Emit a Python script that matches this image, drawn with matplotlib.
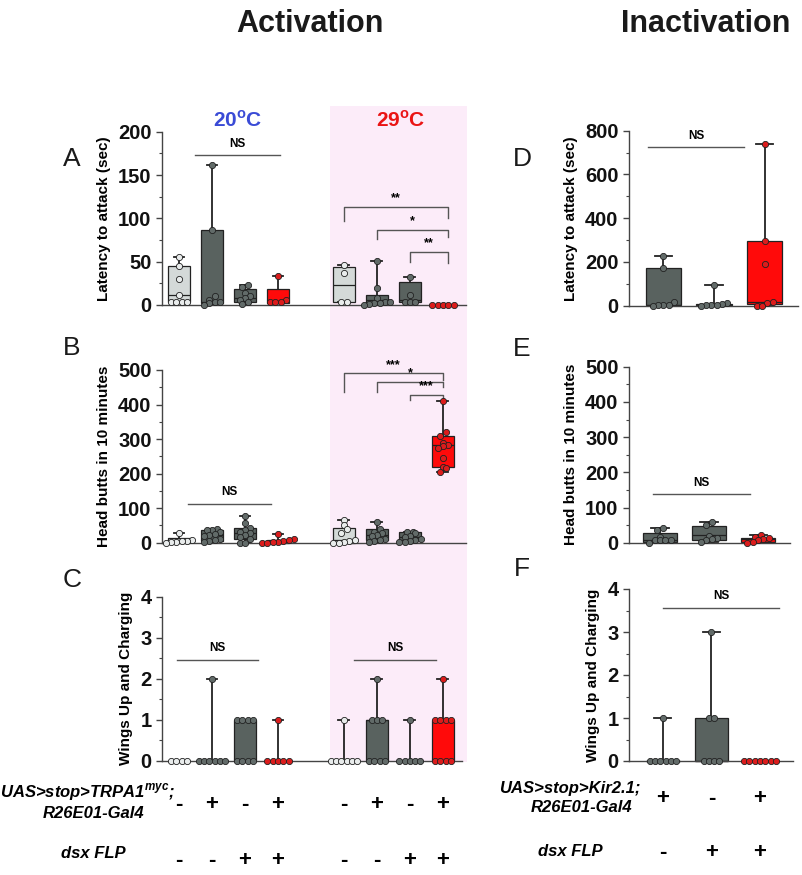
import matplotlib.pyplot as plt
from matplotlib.patches import Rectangle
from matplotlib.ticker import AutoMinorLocator
import matplotlib.transforms as mtransforms

plt.rcParams['font.family'] = ['Liberation Sans', 'DejaVu Sans']
plt.rcParams['mathtext.fontset'] = 'custom'
plt.rcParams['mathtext.rm'] = 'Liberation Sans:italic:bold'
plt.rcParams['mathtext.bf'] = 'Liberation Sans:bold'

# ---- data ----
act_pos = [1, 2, 3, 4, 6, 7, 8, 9]
act_kind = ['light', 'dark', 'dark', 'red', 'light', 'dark', 'dark', 'red']
inact_pos = [1, 2, 3]
inact_kind = ['dark', 'dark', 'red']

# latency to attack, activation (sec)
a_pts = [[55, 45, 30, 12, 3, 3, 3, 3],
         [162, 86, 10, 6, 3, 3, 2, 0],
         [23, 21, 14, 10, 8, 6, 3, 1],
         [33, 6, 3, 3, 3],
         [46, 37, 4, 3],
         [51, 20, 8, 3, 3, 2, 2, 1, 0],
         [32, 11, 3, 3, 3],
         [0, 0, 0, 0, 0]]
# box stats: low, q1, median, q3, high
a_box = [(3, 3, 12, 45, 55), (0, 2, 4, 86, 162), (1, 4, 8, 18, 23), (2, 2, 4, 18, 33),
         (3, 4, 23, 44, 46), (0, 2, 6, 12, 51), (3, 3, 6, 26, 32), (0, 0, 0, 0, 0)]

# head butts, activation
b_pts = [[28, 8, 6, 4, 2, 1, 0],
         [40, 38, 36, 30, 25, 22, 18, 12, 8, 5, 2],
         [77, 56, 42, 36, 30, 28, 22, 17, 10, 0, 0],
         [26, 12, 8, 5, 3, 1, 0, 0],
         [66, 50, 40, 28, 8, 5, 2, 0, 0],
         [61, 40, 32, 28, 22, 18, 12, 8, 4, 2],
         [31, 30, 28, 20, 17, 12, 8, 5, 2, 2],
         [411, 320, 308, 290, 282, 280, 275, 244, 220, 216, 206]]
b_box = [(0, 1, 4, 15, 28), (2, 6, 22, 38, 40), (0, 12, 29, 44, 77), (0, 0, 3, 8, 26),
         (0, 0, 8, 42, 66), (2, 8, 22, 39, 61), (2, 8, 17, 31, 31), (206, 218, 282, 308, 411)]

# wings up and charging, activation
c_pts = [[0, 0, 0, 0],
         [2, 0, 0, 0, 0, 0, 0],
         [1, 1, 1, 1, 0, 0, 0, 0],
         [1, 0, 0, 0, 0, 0],
         [1, 0, 0, 0, 0, 0, 0],
         [2, 1, 1, 1, 0, 0, 0, 0],
         [1, 0, 0, 0, 0, 0],
         [2, 1, 1, 1, 1, 0, 0, 0, 0]]
c_box = [(0, 0, 0, 0, 0), (0, 0, 0, 0, 2), (0, 0, 1, 1, 1), (0, 0, 0, 0, 1),
         (0, 0, 0, 0, 1), (0, 0, 1, 1, 2), (0, 0, 0, 0, 1), (0, 0, 1, 1, 2)]

# inactivation
d_pts = [[229, 172, 15, 5, 3, 2, 0],
         [94, 14, 6, 5, 4, 3, 0],
         [738, 297, 190, 18, 14, 0, 0]]
d_box = [(0, 2, 5, 172, 229), (0, 3, 5, 8, 94), (0, 6, 18, 297, 738)]

e_pts = [[43, 36, 15, 8, 8, 8, 8, 0],
         [59, 50, 20, 12, 10, 8, 3],
         [21, 17, 12, 10, 8, 2, 0]]
e_box = [(0, 3, 8, 28, 43), (3, 8, 22, 47, 59), (0, 2, 10, 14, 21)]

f_pts = [[1, 0, 0, 0, 0, 0, 0],
         [3, 1, 1, 0, 0, 0, 0],
         [0, 0, 0, 0, 0, 0, 0]]
f_box = [(0, 0, 0, 0, 1), (0, 0, 0, 1, 3), (0, 0, 0, 0, 0)]

# genotype rows
act_uas = ['-', '+', '-', '+', '-', '+', '-', '+']
act_dsx = ['-', '-', '+', '+', '-', '-', '+', '+']
inact_uas = ['+', '-', '+']
inact_dsx = ['-', '+', '+']

# significance: x1, x2, y, left leg end, right leg end, label
a_sig = [(6, 9.15, 113, 97, 100, '**'), (7, 9.15, 87, 76, 78, '*'), (8, 9.15, 61, 50, 48, '**')]
b_sig = [(6, 9, 490, 437, 471, '***'), (7, 9, 466, 437, 450, '*'), (8, 9, 428, 413, 413, '***')]
# NS lines: x1, x2, y
a_ns = [(1.5, 4.06, 173)]
b_ns = [(1.27, 3.8, 112)]
c_ns = [(0.94, 3.4, 2.46), (6.3, 8.8, 2.46)]
d_ns = [(0.7, 2.59, 724)]
e_ns = [(0.86, 2.84, 137)]
f_ns = [(1.0, 3.4, 3.56)]

BOX = {'light': '#d4d9d8', 'dark': '#59625f', 'red': '#ff0a0a'}
DOT = {'light': '#e9ecec', 'dark': '#626b69', 'red': '#dc1c1c'}
EDGE = '#222222'
GRAY = '#555555'

W, H = 802, 875
fig = plt.figure(figsize=(W / 100, H / 100), dpi=100)


def fx(px):
    return px / W


def fy(py):
    return 1 - py / H


# pink 29C background
fig.patches.append(Rectangle((fx(330), fy(762)), fx(467) - fx(330), fy(106) - fy(762),
                             transform=fig.transFigure, facecolor='#fcecf9',
                             edgecolor='none', zorder=-1))


def swarm_offsets(ax, vals, d_px=5.3):
    bb = ax.get_window_extent()
    x0, x1 = ax.get_xlim()
    y0, y1 = ax.get_ylim()
    ppx = bb.width / (x1 - x0)
    ppy = bb.height / (y1 - y0)
    order = sorted(range(len(vals)), key=lambda i: vals[i])
    rows = []
    for i in order:
        py = vals[i] * ppy
        if rows and py - rows[-1][0] < d_px * 0.8:
            rows[-1][1].append(i)
        else:
            rows.append([py, [i]])
    offs = [0.0] * len(vals)
    for _, idx in rows:
        n = len(idx)
        for k, i in enumerate(idx):
            offs[i] = (k - (n - 1) / 2) * d_px / ppx
    return offs


def panel(rect, xlim, ymax, step, pos, pts, box, kinds, width, ylabel):
    ax = fig.add_axes(rect)
    ax.patch.set_alpha(0)
    ax.set_xlim(*xlim)
    ax.set_ylim(0, ymax)
    stats = [dict(whislo=b[0], q1=b[1], med=b[2], q3=b[3], whishi=b[4], fliers=[]) for b in box]
    bp = ax.bxp(stats, positions=pos, widths=width, patch_artist=True, showfliers=False,
                capwidths=width * 0.5,
                boxprops=dict(edgecolor=EDGE, linewidth=0.9),
                whiskerprops=dict(color=EDGE, linewidth=1.3),
                capprops=dict(color=EDGE, linewidth=1.3),
                medianprops=dict(color=EDGE, linewidth=0.9))
    for patch, k in zip(bp['boxes'], kinds):
        patch.set_facecolor(BOX[k])
    for key in bp:
        for art in bp[key]:
            art.set_clip_on(False)
    for p, vals, k in zip(pos, pts, kinds):
        offs = swarm_offsets(ax, vals)
        ax.scatter([p + o for o in offs], vals, s=20, c=DOT[k], edgecolors=EDGE,
                   linewidths=0.6, zorder=4, clip_on=False)
    ax.set_xticks([])
    ax.set_yticks(range(0, ymax + 1, step))
    ax.yaxis.set_minor_locator(AutoMinorLocator(2))
    ax.tick_params(axis='y', which='major', labelsize=14.5, length=4, width=1, color='#444')
    ax.tick_params(axis='y', which='minor', length=2, width=0.8, color='#444')
    plt.setp(ax.get_yticklabels(), fontweight='bold', color='#111')
    for s in ['top', 'right']:
        ax.spines[s].set_visible(False)
    for s in ['left', 'bottom']:
        ax.spines[s].set_color('#444')
        ax.spines[s].set_linewidth(1)
    ax.set_ylabel(ylabel, fontsize=11, fontweight='bold', labelpad=5)
    return ax


def ns_lines(ax, lines):
    for x1, x2, y in lines:
        ax.plot([x1, x2], [y, y], color=GRAY, lw=1, clip_on=False)
        ax.annotate('NS', ((x1 + x2) / 2, y), xytext=(0, 4), textcoords='offset points',
                    ha='center', va='bottom', fontsize=8.5, fontweight='bold')


def sig_brackets(ax, sigs):
    for x1, x2, y, yl, yr, lab in sigs:
        ax.plot([x1, x1, x2, x2], [yl, y, y, yr], color=GRAY, lw=1, clip_on=False)
        ax.annotate(lab, ((x1 + x2) / 2, y), xytext=(0, 2), textcoords='offset points',
                    ha='center', va='bottom', fontsize=9, fontweight='bold')


axA = panel([fx(162), fy(305), fx(466) - fx(162), fy(131.7) - fy(305)], (0.485, 9.7), 200, 50,
            act_pos, a_pts, a_box, act_kind, 0.66, 'Latency to attack (sec)')
axB = panel([fx(162), fy(542.7), fx(466) - fx(162), fy(370) - fy(542.7)], (0.485, 9.7), 500, 100,
            act_pos, b_pts, b_box, act_kind, 0.66, 'Head butts in 10 minutes')
axC = panel([fx(162), fy(760.7), fx(462) - fx(162), fy(596.7) - fy(760.7)], (0.485, 9.58), 4, 1,
            act_pos, c_pts, c_box, act_kind, 0.66, 'Wings Up and Charging')
axD = panel([fx(629), fy(305.7), fx(798) - fx(629), fy(130.7) - fy(305.7)], (0.32, 3.66), 800, 200,
            inact_pos, d_pts, d_box, inact_kind, 0.7, 'Latency to attack (sec)')
axE = panel([fx(629), fy(542.7), fx(790) - fx(629), fy(366.7) - fy(542.7)], (0.37, 3.65), 500, 100,
            inact_pos, e_pts, e_box, inact_kind, 0.7, 'Head butts in 10 minutes')
axF = panel([fx(629), fy(761), fx(793) - fx(629), fy(589) - fy(761)], (0.3, 3.68), 4, 1,
            inact_pos, f_pts, f_box, inact_kind, 0.7, 'Wings Up and Charging')

ns_lines(axA, a_ns)
ns_lines(axB, b_ns)
ns_lines(axC, c_ns)
ns_lines(axD, d_ns)
ns_lines(axE, e_ns)
ns_lines(axF, f_ns)
sig_brackets(axA, a_sig)
sig_brackets(axB, b_sig)

# titles and labels
fig.text(fx(310), fy(24), 'Activation', ha='center', va='center', fontsize=22,
         fontweight='bold', color='#1a1a1a')
fig.text(fx(706), fy(24), 'Inactivation', ha='center', va='center', fontsize=22,
         fontweight='bold', color='#1a1a1a')
fig.text(fx(238), fy(120), r'20$^{\mathbf{o}}$C', ha='center', va='center', fontsize=15,
         fontweight='bold', color='#3a4bd6')
fig.text(fx(401), fy(120), r'29$^{\mathbf{o}}$C', ha='center', va='center', fontsize=15,
         fontweight='bold', color='#ea1414')

for lab, x, y in [('A', 72, 159), ('B', 72, 348), ('C', 72, 580),
                  ('D', 522, 159), ('E', 522, 349), ('F', 522, 569)]:
    fig.text(fx(x), fy(y), lab, ha='center', va='center', fontsize=19, color='#1a1a1a')

# genotype table
gkw = dict(ha='center', va='center', fontsize=12, fontweight='bold', style='italic')
fig.text(fx(87), fy(792), r'UAS>stop>TRPA1$^{\mathrm{myc}}$;', **gkw)
fig.text(fx(94), fy(813), 'R26E01-Gal4', **gkw)
fig.text(fx(93), fy(853), 'dsx FLP', **gkw)
fig.text(fx(570), fy(789), 'UAS>stop>Kir2.1;', **gkw)
fig.text(fx(582), fy(808), 'R26E01-Gal4', **gkw)
fig.text(fx(570), fy(852), 'dsx FLP', **gkw)

skw = dict(ha='center', va='center', fontsize=16, fontweight='bold')
trC = mtransforms.blended_transform_factory(axC.transData, fig.transFigure)
for p, u, d in zip(act_pos, act_uas, act_dsx):
    fig.text(p, fy(805), u, transform=trC, **skw)
    fig.text(p, fy(860), d, transform=trC, **skw)
trF = mtransforms.blended_transform_factory(axF.transData, fig.transFigure)
for p, u, d in zip(inact_pos, inact_uas, inact_dsx):
    fig.text(p, fy(798), u, transform=trF, **skw)
    fig.text(p, fy(852), d, transform=trF, **skw)

fig.savefig('out.png', dpi=100)
